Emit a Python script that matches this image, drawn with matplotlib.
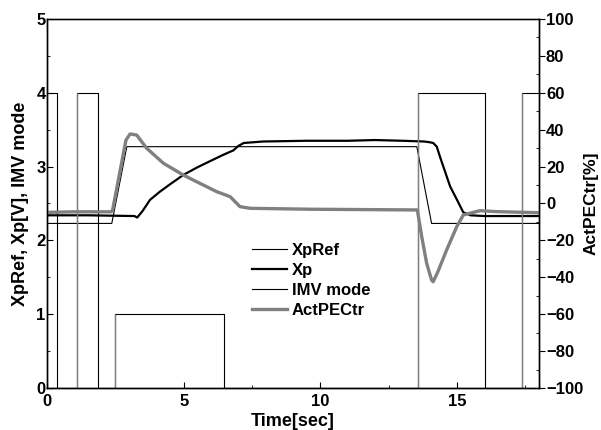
import matplotlib
matplotlib.use("Agg")
import matplotlib.pyplot as plt
import numpy as np
from matplotlib.ticker import MultipleLocator

plt.rcParams['font.family'] = ['Liberation Sans', 'DejaVu Sans']
plt.rcParams['font.weight'] = 'bold'

# ---- data ----
xpref_t = [0, 2.37, 2.92, 13.53, 14.07, 18]
xpref_v = [2.23, 2.23, 3.27, 3.27, 2.23, 2.23]

xp_t = [0, 1.5, 3.2, 3.3, 3.5, 3.77, 4.13, 4.5, 5.0, 5.5, 6.0, 6.45, 6.82, 7.0, 7.2, 7.9,
        9.5, 11.0, 12.0, 13.0, 13.8, 14.0, 14.13, 14.26, 14.38, 14.5, 14.75, 15.0, 15.23,
        15.5, 16.0, 18.0]
xp_v = [2.34, 2.34, 2.33, 2.31, 2.40, 2.55, 2.66, 2.76, 2.89, 2.99, 3.08, 3.16, 3.22, 3.28,
        3.32, 3.34, 3.35, 3.35, 3.36, 3.35, 3.34, 3.33, 3.32, 3.27, 3.13, 3.00, 2.73, 2.55,
        2.38, 2.34, 2.33, 2.33]

imv_t = [0, 0.35, 1.09, 1.85, 2.49, 6.49, 13.56, 16.04, 17.39, 18]
imv_v = [4, 0, 4, 0, 1, 0, 4, 0, 4, 4]

pec_t = [0, 1.0, 2.35, 2.4, 2.89, 3.04, 3.28, 3.65, 4.26, 4.99, 5.72, 6.21, 6.70, 7.06,
         7.43, 9.62, 13.55, 13.71, 13.89, 14.07, 14.13, 14.3, 14.62, 14.99, 15.23, 15.84,
         16.45, 18]
pec_v = [-4.8, -4.5, -4.5, -3.5, 34.4, 37.7, 37.1, 29.9, 21.8, 15.4, 10.0, 6.4, 3.7, -1.7,
         -2.6, -3.1, -3.5, -18, -32.4, -41.5, -42.4, -37, -25.2, -12.6, -6.2, -3.9,
         -4.4, -5]

fig = plt.figure(figsize=(6.01, 4.30), dpi=100)
ax = fig.add_axes([47/601, 42/430, (539-47)/601, (388-19)/430])
ax2 = ax.twinx()

l1, = ax.plot(xpref_t, xpref_v, color='black', lw=0.8, label='XpRef')
l2, = ax.plot(xp_t, xp_v, color='black', lw=1.6, label='Xp')
l3, = ax.plot(imv_t, imv_v, color='black', lw=0.8, drawstyle='steps-post', label='IMV mode')
# rising edges appear grey in the reference
for i in range(1, len(imv_t) - 1):
    if imv_v[i] > imv_v[i - 1]:
        ax.vlines(imv_t[i], imv_v[i - 1], imv_v[i], color='#808080', lw=1.0)
l4, = ax2.plot(pec_t, pec_v, color='#808080', lw=2.4, label='ActPECtr')

ax.set_xlim(0, 18)
ax.set_ylim(0, 5)
ax2.set_ylim(-100, 100)

ax.xaxis.set_major_locator(MultipleLocator(5))
ax.xaxis.set_minor_locator(MultipleLocator(2.5))
ax.yaxis.set_major_locator(MultipleLocator(1))
ax.yaxis.set_minor_locator(MultipleLocator(0.5))
ax2.yaxis.set_major_locator(MultipleLocator(20))
ax2.yaxis.set_minor_locator(MultipleLocator(10))

for a in (ax, ax2):
    a.tick_params(which='both', direction='in', labelsize=12, pad=2)
    a.tick_params(which='major', length=4, width=0.8)
    a.tick_params(which='minor', length=2.5, width=0.6)
    for s in a.spines.values():
        s.set_linewidth(1.0)
ax.tick_params(axis='y', right=False, pad=1)
ax.tick_params(axis='x', top=False, pad=4)
ax2.tick_params(axis='y', direction='out', pad=1)
ax.spines['top'].set_color('#555555')

for lab in ax.get_xticklabels() + ax.get_yticklabels() + ax2.get_yticklabels():
    lab.set_fontweight('bold')

ax.set_xlabel('Time[sec]', fontsize=13, fontweight='bold', labelpad=3)
ax.set_ylabel('XpRef, Xp[V], IMV mode', fontsize=13, fontweight='bold', labelpad=5)
ax2.set_ylabel('ActPECtr[%]', fontsize=12.5, fontweight='bold', labelpad=0)

leg = fig.legend(handles=[l1, l2, l3, l4], loc='upper left',
                 bbox_to_anchor=(252/601, 1 - 243/430), frameon=False,
                 prop={'weight': 'bold', 'size': 12}, borderpad=0, borderaxespad=0,
                 handlelength=2.1, handletextpad=0.3, labelspacing=0.3)

fig.savefig('out.png', dpi=100)
